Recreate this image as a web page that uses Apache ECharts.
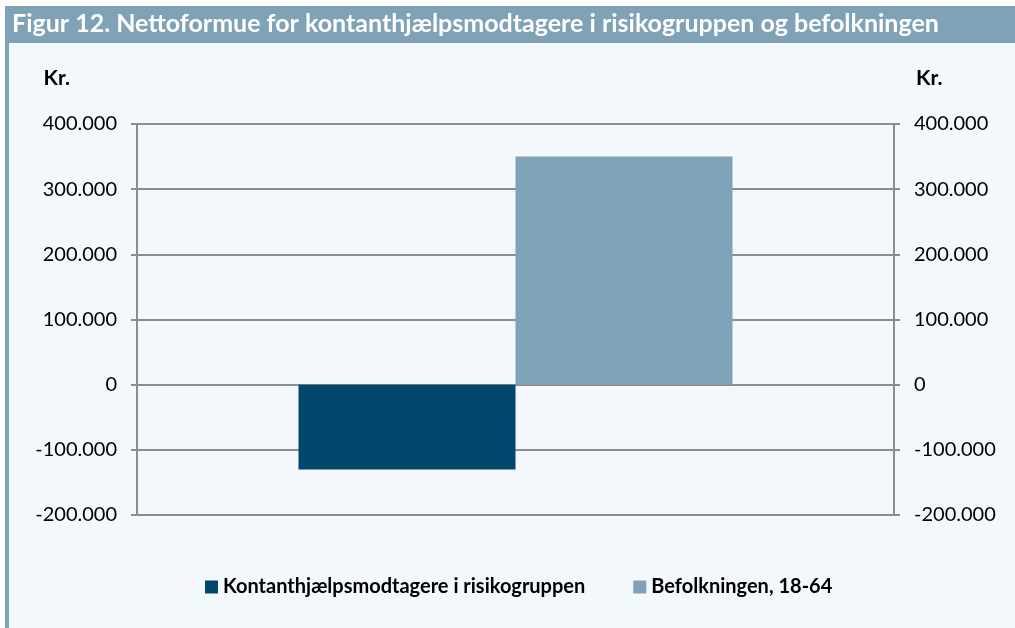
<!DOCTYPE html>
<html>
<head>
<meta charset="utf-8">
<script src="https://cdn.jsdelivr.net/npm/echarts@6/dist/echarts.min.js"></script>
<style>
  html, body { margin: 0; padding: 0; background: #ffffff; }
  #chart { width: 1015px; height: 628px; }
</style>
</head>
<body>
<div id="chart"></div>
<script>
const titleText = 'Figur 12. Nettoformue for kontanthjælpsmodtagere i risikogruppen og befolkningen';
const categories = [''];
const seriesNames = ['Kontanthjælpsmodtagere i risikogruppen', 'Befolkningen, 18-64'];
const riskGroupValues = [-130000];
const populationValues = [350000];
const yMin = -200000;
const yMax = 400000;
const yStep = 100000;

const FONT = 'Lato, "Open Sans", sans-serif';
const FRAME_BLUE = '#7fa2b7';
const DARK_BLUE = '#00466d';
const PANEL_BG = '#f3f8fd';
const GRID_GREY = '#8c8c8c';

function formatKr(value) {
    const sign = value < 0 ? '-' : '';
    const digits = String(Math.abs(value)).replace(/\B(?=(\d{3})+(?!\d))/g, '.');
    return sign + digits;
}

function valueAxis(side) {
    const isLeft = side === 'left';
    return {
        type: 'value',
        position: side,
        min: yMin,
        max: yMax,
        interval: yStep,
        name: 'Kr.',
        nameLocation: 'end',
        nameGap: 35,
        nameTextStyle: {
            fontFamily: FONT,
            fontWeight: 'bold',
            fontSize: 21,
            color: '#000',
            align: isLeft ? 'right' : 'left',
            padding: isLeft ? [0, 67, 0, 0] : [0, 0, 0, 22],
        },
        axisLine: { show: true, lineStyle: { color: GRID_GREY, width: 2 } },
        axisTick: { show: true, length: 6, lineStyle: { color: GRID_GREY, width: 2 } },
        axisLabel: {
            formatter: formatKr,
            fontFamily: FONT,
            fontSize: 20,
            color: '#000',
            margin: 20,
        },
        splitLine: { show: isLeft, lineStyle: { color: GRID_GREY, width: 2 } },
    };
}

const chart = echarts.init(document.getElementById('chart'), null, { renderer: 'canvas' });

chart.setOption({
    backgroundColor: '#ffffff',
    animation: false,
    graphic: [
        { type: 'rect', z: -10, silent: true, shape: { x: 5, y: 6, width: 1010, height: 622 }, style: { fill: PANEL_BG } },
        { type: 'rect', z: -9, silent: true, shape: { x: 5, y: 6, width: 4, height: 622 }, style: { fill: FRAME_BLUE } },
        { type: 'rect', z: -9, silent: true, shape: { x: 5, y: 6, width: 1010, height: 37 }, style: { fill: FRAME_BLUE } },
    ],
    title: {
        text: titleText,
        left: 7,
        top: 6,
        textStyle: { fontFamily: FONT, fontWeight: 'bold', fontSize: 25, color: '#ffffff' },
    },
    legend: {
        data: seriesNames,
        bottom: 26,
        left: 200,
        icon: 'rect',
        itemWidth: 13,
        itemHeight: 13,
        itemGap: 48,
        textStyle: { fontFamily: FONT, fontWeight: 'bold', fontSize: 20, color: '#000' },
    },
    grid: { left: 137, right: 121, top: 124, bottom: 113 },
    xAxis: {
        type: 'category',
        data: categories,
        axisLine: { show: false },
        axisTick: { show: false },
        axisLabel: { show: false },
    },
    yAxis: [valueAxis('left'), valueAxis('right')],
    series: [
        {
            name: seriesNames[0],
            type: 'bar',
            data: riskGroupValues,
            barWidth: 217,
            barGap: '0%',
            itemStyle: { color: DARK_BLUE },
        },
        {
            name: seriesNames[1],
            type: 'bar',
            data: populationValues,
            barWidth: 217,
            barGap: '0%',
            itemStyle: { color: FRAME_BLUE },
        },
    ],
});
</script>
</body>
</html>
